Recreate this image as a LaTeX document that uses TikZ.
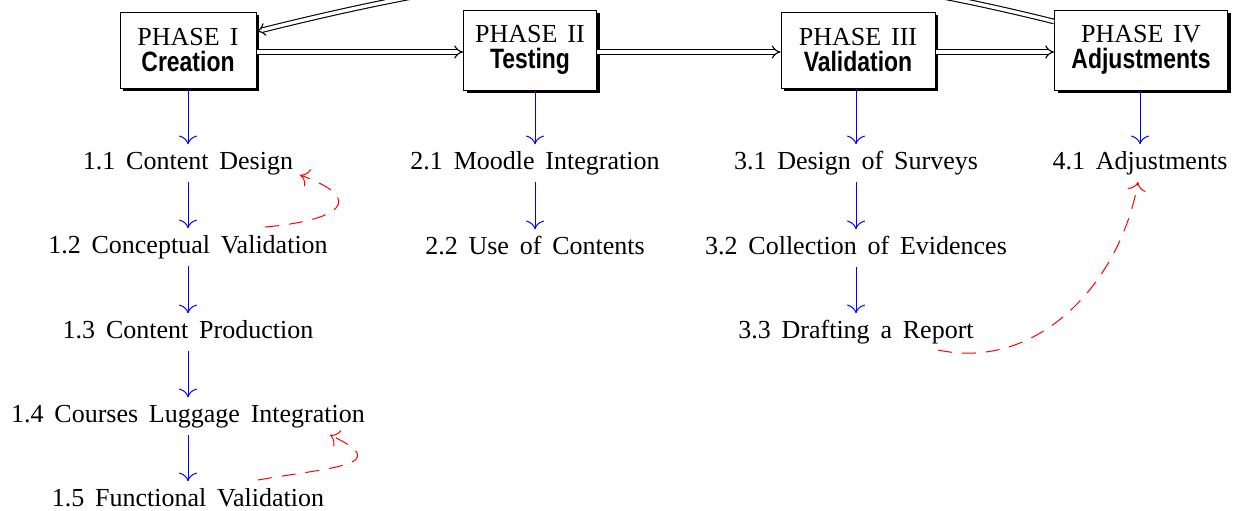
\documentclass[tikz,border=0pt]{standalone}
\usepackage{fontspec}
\setmainfont{Liberation Serif}
\newfontfamily\boldsans[FakeStretch=0.82]{Liberation Sans}
\usetikzlibrary{arrows.meta,shadows,calc}
\newcommand{\widesp}{\spaceskip=5.4pt plus 1pt\relax}
\newcommand{\phsp}{\spaceskip=5pt plus 1pt\relax}
\tikzset{
  phase/.style={draw=black, line width=0.5pt, fill=white, align=center,
    font=\fontsize{13}{13}\selectfont, execute at begin node=\phsp, inner sep=0pt,
    drop shadow={shadow xshift=1.7pt, shadow yshift=-1.7pt, fill=black, opacity=1}},
  item/.style={font=\fontsize{13}{14}\selectfont, execute at begin node=\widesp, inner xsep=2pt, inner ysep=3.3pt,
    text height=9pt, text depth=2.8pt},
  flow/.style={draw=black, line width=0.55pt, double, double distance=1.7pt, -{Implies}},
  sub/.style={draw=blue, line width=0.5pt, -{To[scale=1.6]}},
  back/.style={draw=red, line width=0.5pt, dash pattern=on 7pt off 5pt, -{To[scale=1.6]}},
}
\newcommand{\bsf}[1]{{\boldsans\bfseries\fontsize{14}{13}\selectfont #1}}
\begin{document}
\begin{tikzpicture}[x=0.5pt,y=-0.5pt]
\useasboundingbox (0,0) rectangle (1237,510);
% phase boxes
\node[phase, minimum width=68pt, minimum height=38pt] (P1) at (188,50) {PHASE I\\\bsf{Creation}};
\node[phase, minimum width=66.5pt, minimum height=40pt] (P2) at (530,50) {PHASE II\\\bsf{Testing}};
\node[phase, minimum width=77pt, minimum height=38pt] (P3) at (858,50) {PHASE III\\\bsf{Validation}};
\node[phase, minimum width=86.5pt, minimum height=40pt] (P4) at (1141,50) {PHASE IV\\\bsf{Adjustments}};
% items
\node[item] (n11) at (188,163) {1.1 Content Design};
\node[item] (n12) at (188,247) {1.2 Conceptual Validation};
\node[item] (n13) at (188,332) {1.3 Content Production};
\node[item] (n14) at (188,416) {1.4 Courses Luggage Integration};
\node[item] (n15) at (188,500) {1.5 Functional Validation};
\node[item] (n21) at (535,163) {2.1 Moodle Integration};
\node[item] (n22) at (535,248) {2.2 Use of Contents};
\node[item] (n31) at (856,163) {3.1 Design of Surveys};
\node[item] (n32) at (856,248) {3.2 Collection of Evidences};
\node[item] (n33) at (856,332) {3.3 Drafting a Report};
\node[item] (n41) at (1140,163) {4.1 Adjustments};
% phase flow
\draw[flow] ([yshift=-1pt]P1.east) -- ([yshift=-1pt]P2.west);
\draw[flow] ([yshift=-1pt]P2.east) -- ([yshift=-1pt]P3.west);
\draw[flow] ([yshift=-1pt]P3.east) -- ([yshift=-1pt]P4.west);
\coordinate (c4) at ($(P4.north west)+(0,12)$);
\coordinate (c1) at ($(P1.north east)+(0,20)$);
\draw[flow] (c4) to[out=166,in=14] (c1);
% sub arrows
\draw[sub] (P1.south -| n11) -- (n11.north);
\draw[sub] (n11.south) -- (n12.north);
\draw[sub] (n12.south) -- (n13.north);
\draw[sub] (n13.south) -- (n14.north);
\draw[sub] (n14.south) -- (n15.north);
\draw[sub] (P2.south -| n21) -- (n21.north);
\draw[sub] (n21.south) -- (n22.north);
\draw[sub] (P3.south -| n31) -- (n31.north);
\draw[sub] (n31.south) -- (n32.north);
\draw[sub] (n32.south) -- (n33.north);
\draw[sub] (P4.south -| n41) -- (n41.north);
% feedback arrows
\coordinate (r1s) at ($(n12)+(77,-20)$);
\coordinate (r1e) at ($(n11)+(112,12)$);
\draw[back] (r1s) to[out=5,in=-20,looseness=3] (r1e);
\coordinate (r2s) at ($(n15)+(70,-20)$);
\coordinate (r2e) at ($(n14)+(142,19)$);
\draw[back] (r2s) to[out=10,in=-25,looseness=2.2] (r2e);
\coordinate (r3s) at ($(n33)+(82,18)$);
\coordinate (r3e) at ($(n41)+(-2,19)$);
\draw[back] (r3s) to[out=-12,in=-100] (r3e);
\end{tikzpicture}
\end{document}
